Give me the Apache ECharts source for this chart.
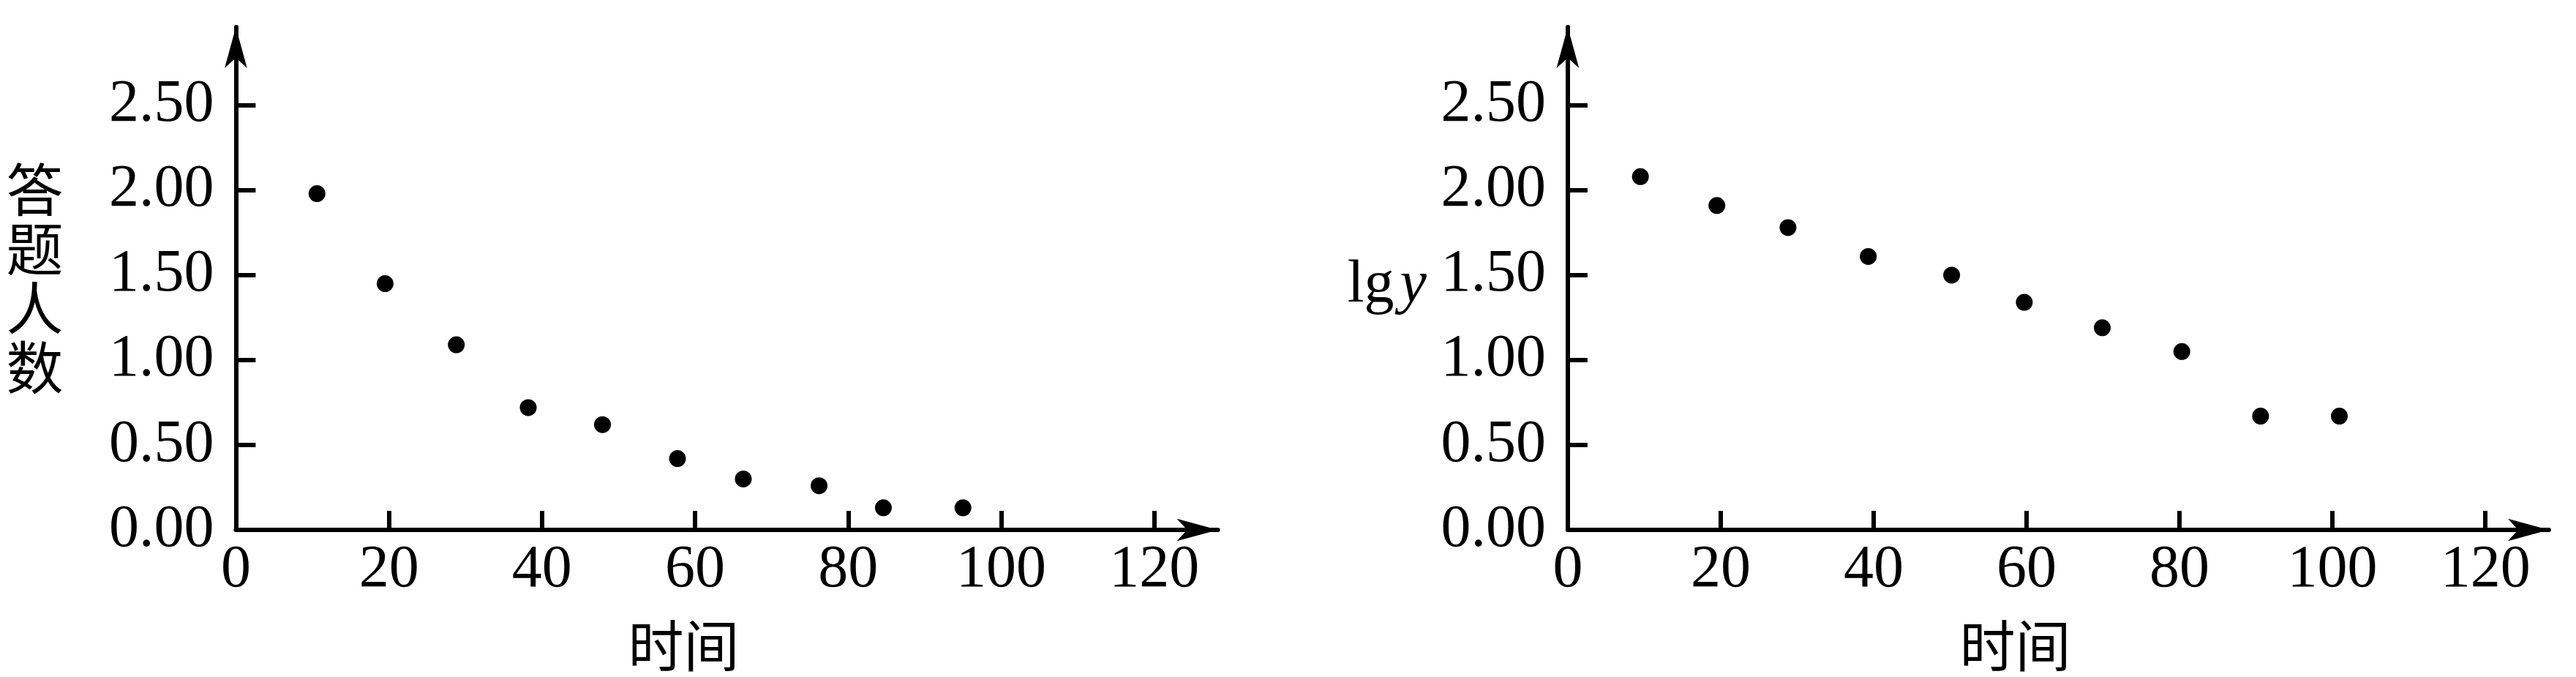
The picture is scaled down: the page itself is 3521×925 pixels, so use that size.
<!DOCTYPE html>
<html><head><meta charset="utf-8">
<script src="https://cdn.jsdelivr.net/npm/echarts@6/dist/echarts.min.js"></script>
<style>html,body{margin:0;padding:0;background:#fff}#c{width:3521px;height:925px}</style>
</head><body><div id="c"></div>
<script>
const xTicks = [0, 20, 40, 60, 80, 100, 120];
const yTicks = [0, 0.5, 1.0, 1.5, 2.0, 2.5];
const leftX = [10.6, 19.5, 28.8, 38.2, 47.9, 57.7, 66.3, 76.2, 84.6, 95.0];
const leftY = [1.98, 1.45, 1.09, 0.72, 0.62, 0.42, 0.30, 0.26, 0.13, 0.13];
const rightX = [9.5, 19.5, 28.8, 39.3, 50.2, 59.7, 69.9, 80.3, 90.6, 100.9];
const rightY = [2.08, 1.91, 1.78, 1.61, 1.50, 1.34, 1.19, 1.05, 0.67, 0.67];
const xName = '时间';
const leftYName = '答题人数';

const serif = '"Liberation Serif","Times New Roman",serif';
const cjk = '"Noto Sans CJK SC",sans-serif';
const LW = 6;

function xAxisCfg(idx) {
  return {
    type: 'value', gridIndex: idx, min: 0, max: 128.3,
    name: xName, nameLocation: 'middle', nameGap: 120,
    nameTextStyle: {fontFamily: cjk, fontSize: 76, color: '#000', padding: [0, 118, 0, 0]},
    axisLine: {show: true, symbol: ['none', 'arrow'], symbolSize: [23, 56], lineStyle: {color: '#000', width: LW}},
    axisTick: {show: true, inside: true, length: 26, lineStyle: {color: '#000', width: LW}, customValues: xTicks},
    axisLabel: {show: true, color: '#000', fontFamily: serif, fontSize: 82, margin: 14, customValues: xTicks},
    splitLine: {show: false}
  };
}
function yAxisCfg(idx, name, nameStyle, gap) {
  return {
    type: 'value', gridIndex: idx, min: 0, max: 2.9605,
    name: name, nameLocation: 'middle', nameRotate: 0, nameGap: gap,
    nameTextStyle: nameStyle,
    axisLine: {show: true, symbol: ['none', 'arrow'], symbolSize: [23, 56], lineStyle: {color: '#000', width: LW}},
    axisTick: {show: true, inside: true, length: 27, lineStyle: {color: '#000', width: LW}, customValues: yTicks},
    axisLabel: {show: true, color: '#000', fontFamily: serif, fontSize: 82, margin: 30, customValues: yTicks,
      formatter: v => v.toFixed(2)},
    splitLine: {show: false}
  };
}
const chart = echarts.init(document.getElementById('c'), null, {renderer: 'canvas'});
chart.setOption({
  backgroundColor: '#fff',
  animation: false,
  grid: [
    {left: 322.4, top: 37, width: 1342.2, height: 689.8},
    {left: 2142.9, top: 37, width: 1341, height: 689.8}
  ],
  xAxis: [xAxisCfg(0), xAxisCfg(1)],
  yAxis: [
    yAxisCfg(0, leftYName.split('').join('\n'),
      {fontFamily: cjk, fontSize: 78, lineHeight: 81, color: '#000', align: 'right', verticalAlign: 'middle', padding: [8, 0, 0, 0]}, 236),
    yAxisCfg(1, '{a|lg}{b|y}',
      {color: '#000', align: 'right', verticalAlign: 'middle', padding: [20, 0, 0, 0],
       rich: {a: {fontFamily: serif, fontSize: 82, color: '#000'},
              b: {fontFamily: serif, fontSize: 82, fontStyle: 'italic', color: '#000', padding: [0, 0, 0, 8]}}}, 193)
  ],
  series: [
    {type: 'scatter', xAxisIndex: 0, yAxisIndex: 0, symbolSize: 23, itemStyle: {color: '#000', opacity: 1},
      data: leftX.map((x, i) => [x, leftY[i]])},
    {type: 'scatter', xAxisIndex: 1, yAxisIndex: 1, symbolSize: 23, itemStyle: {color: '#000', opacity: 1},
      data: rightX.map((x, i) => [x, rightY[i]])}
  ]
});
</script></body></html>
